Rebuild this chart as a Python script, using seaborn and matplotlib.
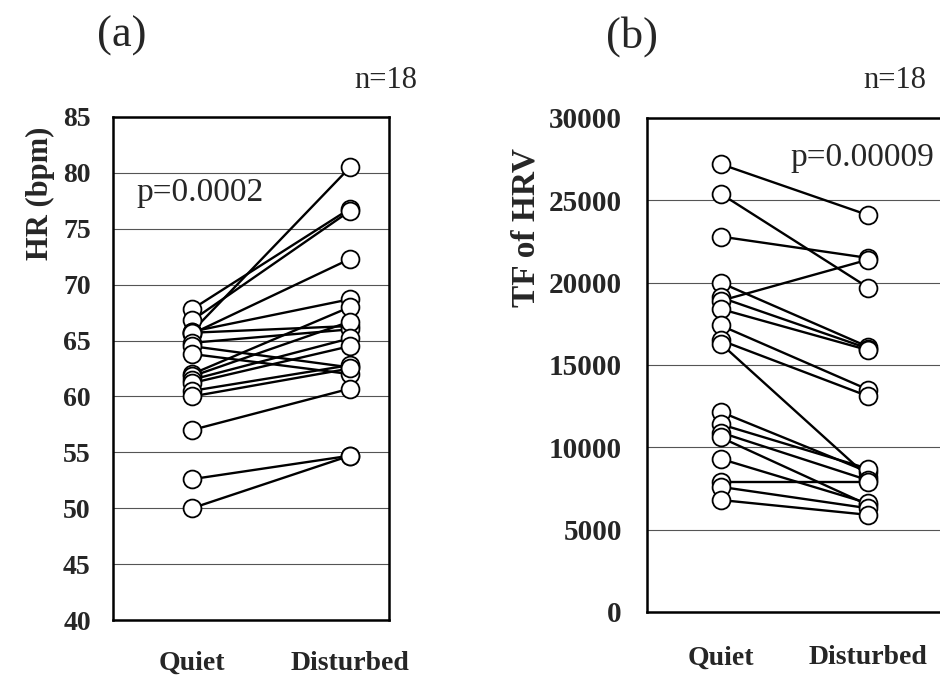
import numpy as np
import pandas as pd
import matplotlib
matplotlib.use("Agg")
import matplotlib.pyplot as plt
import seaborn as sns

# ---- data ----
conditions = ["Quiet", "Disturbed"]

hr_quiet = [67.8, 66.8, 65.8, 65.6, 65.8, 65.7, 64.8, 64.5, 63.8,
            62.0, 61.8, 61.5, 61.2, 60.5, 60.0, 57.0, 52.6, 50.0]
hr_disturbed = [76.8, 76.6, 80.5, 72.3, 68.7, 66.3, 66.0, 62.6, 62.0,
                68.0, 66.7, 65.2, 64.5, 62.8, 62.5, 60.7, 54.7, 54.7]

tf_quiet = [27200, 25400, 22800, 20000, 19100, 18900, 18400, 17400, 16500,
            16300, 12150, 11400, 10900, 10600, 9300, 7900, 7600, 6800]
tf_disturbed = [24100, 19700, 21500, 16100, 16000, 21400, 15900, 13500, 13100,
                8200, 8500, 8700, 8000, 6500, 6600, 7900, 6300, 5900]

hr_ticks = [40, 45, 50, 55, 60, 65, 70, 75, 80, 85]
tf_ticks = [0, 5000, 10000, 15000, 20000, 25000, 30000]

panel_labels = ["(a)", "(b)"]
n_label = "n=18"
p_labels = ["p=0.0002", "p=0.00009"]
y_labels = ["HR (bpm)", "TF of HRV"]

sns.set_style("white")
plt.rcParams["font.family"] = ["Liberation Serif", "DejaVu Serif"]


def long_df(q, d):
    rows = []
    for i, (a, b) in enumerate(zip(q, d)):
        rows.append({"subject": i, "pos": conditions.index("Quiet"), "value": a})
        rows.append({"subject": i, "pos": conditions.index("Disturbed"), "value": b})
    return pd.DataFrame(rows)


fig = plt.figure(figsize=(9.4, 6.75), dpi=100)
axL = fig.add_axes([113 / 940, 1 - 620 / 675, 276 / 940, 503 / 675])
axR = fig.add_axes([647 / 940, 1 - 612 / 675, 295 / 940, 494 / 675])


def draw(ax, q, d, ticks, xlim, ytick_len, ytick_pad, ysize, xpad):
    df = long_df(q, d)
    sns.lineplot(data=df, x="pos", y="value", units="subject", estimator=None,
                 color="black", linewidth=1.7, ax=ax, legend=False, sort=False,
                 zorder=2)
    sns.scatterplot(data=df, x="pos", y="value", s=165, color="white",
                    edgecolor="black", linewidth=1.3, ax=ax, zorder=3,
                    legend=False)
    ax.set_ylim(ticks[0], ticks[-1])
    ax.set_yticks(ticks)
    ax.set_yticklabels([str(t) for t in ticks], fontsize=ysize, fontweight="bold")
    ax.set_xlim(*xlim)
    ax.set_xticks([0, 1])
    ax.set_xticklabels(conditions, fontsize=20, fontweight="bold")
    ax.set_xticks([0.5], minor=True)
    ax.tick_params(axis="x", which="major", length=0, pad=xpad)
    ax.tick_params(axis="x", which="minor", direction="in", length=6,
                   width=0.8, color="#555555")
    ax.tick_params(axis="y", which="major", length=ytick_len, width=0.8,
                   direction="out", pad=ytick_pad, color="#444444")
    ax.yaxis.grid(True, color="#555555", linewidth=0.8)
    ax.xaxis.grid(False)
    ax.set_axisbelow(True)
    ax.set_xlabel("")
    ax.set_ylabel("")
    for s in ax.spines.values():
        s.set_visible(True)
        s.set_color("black")
        s.set_linewidth(1.8)


draw(axL, hr_quiet, hr_disturbed, hr_ticks, (-0.5, 1.247), 7, 9, 20, 22)
draw(axR, tf_quiet, tf_disturbed, tf_ticks, (-0.5, 1.5), 0, 18, 21, 24)

# titles, annotations
fig.text(122 / 940, 1 - 36 / 675, panel_labels[0], fontsize=32,
         ha="center", va="center")
fig.text(632 / 940, 1 - 37 / 675, panel_labels[1], fontsize=32,
         ha="center", va="center")
fig.text(386 / 940, 1 - 80 / 675, n_label, fontsize=22, ha="center", va="center")
fig.text(895 / 940, 1 - 80 / 675, n_label, fontsize=22, ha="center", va="center")
fig.text(200 / 940, 1 - 193 / 675, p_labels[0], fontsize=24, ha="center", va="center")
fig.text(862 / 940, 1 - 158 / 675, p_labels[1], fontsize=24, ha="center", va="center")
fig.text(40 / 940, 1 - 193 / 675, y_labels[0], fontsize=22, fontweight="bold",
         rotation=90, ha="center", va="center")
fig.text(526 / 940, 1 - 228 / 675, y_labels[1], fontsize=24, fontweight="bold",
         rotation=90, ha="center", va="center")

fig.savefig("out.png", dpi=100)
